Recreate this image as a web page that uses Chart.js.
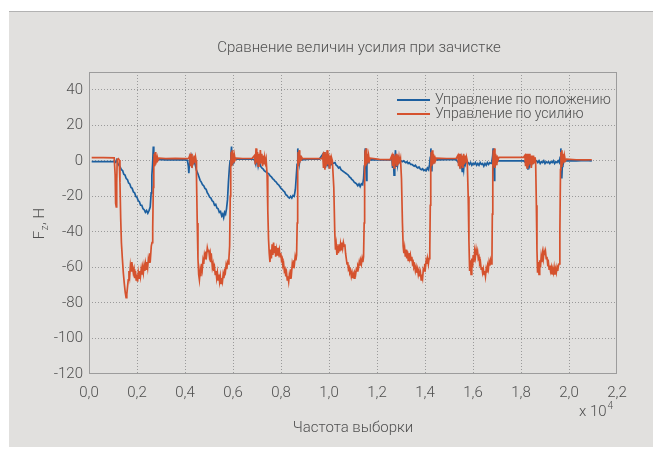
<!DOCTYPE html>
<html>
<head>
<meta charset="utf-8">
<script src="https://cdn.jsdelivr.net/npm/chart.js@4.4.1/dist/chart.umd.min.js"></script>
<style>
  html, body { margin: 0; padding: 0; background: #fff; }
  #wrap { position: relative; width: 653px; height: 455px; overflow: hidden; }
  #panel { position: absolute; left: 9px; top: 11px; right: 0; bottom: 8px; background: #e1e0de; border-top: 1px solid #b2b2b2; }
  canvas { position: absolute; left: 0; top: 0; }
</style>
</head>
<body>
<div id="wrap">
  <div id="panel"></div>
  <canvas id="chart" width="653" height="455"></canvas>
</div>
<script>
// samples / force in H
const xTickValues = [0, 2000, 4000, 6000, 8000, 10000, 12000, 14000, 16000, 18000, 20000, 22000];
const yTickValues = [-120, -100, -80, -60, -40, -20, 0, 20, 40];

// Управление по положению (blue)
const positionTrace = [
  [112,-0.5],[600,-0.5],[1050,-0.4],[1100,-0.8],[1150,0.5],[1200,-1.5],[1250,-2.5],[1300,-3.5],[1350,-5],
  [1400,-5.5],[1450,-7.5],[1500,-8],[1550,-10],[1600,-10.5],[1650,-12.5],[1700,-13],[1750,-15],[1800,-15.5],
  [1850,-17.5],[1900,-18],[1950,-20],[2000,-20.5],[2050,-22.5],[2100,-23],[2150,-25],[2200,-25],[2250,-27],
  [2300,-27.5],[2350,-29],[2400,-28],[2450,-29.5],[2500,-28],[2550,-26],[2590,-18],[2620,-8],[2650,-2],
  [2680,8],[2700,-3],[2720,4],[2740,-2],[2770,2],[2800,0.5],[2850,0.8],
  [3200,0.5],[3600,0.6],[4000,0.5],[4100,0.3],[4140,-3],[4160,-7],[4180,-2],[4200,1],[4240,-1],[4280,2],
  [4320,-2],[4360,0],[4400,-1],[4440,-3],
  [4480,-5.5],[4530,-7],[4580,-9],[4630,-11],[4680,-12],[4730,-13.5],[4780,-14],[4830,-15.5],[4880,-16],
  [4930,-18],[4980,-19],[5030,-20.5],[5080,-21],[5130,-22.5],[5180,-23],[5230,-25],[5280,-24.5],[5330,-26.5],
  [5380,-27],[5430,-29],[5480,-28.5],[5530,-31],[5570,-30],[5610,-32],[5650,-29],[5690,-30],[5730,-27],
  [5770,-22],[5810,-12],[5850,-4],[5880,0],[5910,3],[5940,8],[5960,-2],[5985,4],[6010,-1],[6040,2],[6080,1],
  [6400,1],[6800,1],[6900,0.5],[6950,-2],[7000,2],[7050,-3],[7100,0],[7150,-3],
  [7200,-4],[7250,-4.5],[7300,-5.5],[7350,-6],[7400,-6.5],[7450,-7],[7500,-7.5],[7550,-8.5],[7600,-9],
  [7650,-10],[7700,-10.5],[7750,-11.5],[7800,-12],[7850,-13],[7900,-13.5],[7950,-14.5],[8000,-15.5],
  [8050,-16],[8100,-17],[8150,-17.5],[8200,-19],[8250,-19.5],[8300,-20.5],[8350,-21],[8400,-20],[8450,-21],
  [8500,-19.5],[8550,-20],[8600,-16],[8640,-8],[8670,-2],[8700,7],[8720,-2],[8745,4],[8770,-1],[8800,2],
  [8840,0.5],[9200,1],[9600,1],
  [9760,4],[9790,-2],[9820,5],[9850,-4],[9880,2],[9910,-3],[9940,1],[9970,-2],[10000,0],[10030,-3],
  [10060,-1],[10100,-2],[10150,-1.5],
  [10250,-1],[10300,-2.5],[10350,-3],[10400,-4],[10450,-3.5],[10500,-5],[10550,-5.5],[10600,-6],[10650,-6.5],
  [10700,-7],[10750,-7.5],[10800,-8],[10850,-9],[10900,-9.5],[10950,-10.5],[11000,-11],[11050,-12],
  [11100,-12.5],[11150,-13],[11200,-14],[11250,-13],[11300,-14.5],[11350,-13],[11400,-13.5],[11440,-10],
  [11470,-3],[11495,5],[11515,7],[11535,-4],[11560,-11],[11580,-3],[11605,3],[11630,-1],[11660,1],[11700,0.5],
  [12100,0.6],[12550,0.5],
  [12620,1],[12650,-4],[12680,2],[12710,-8],[12740,-2],[12770,6],[12800,-3],[12830,3],[12860,-2],[12890,1],
  [12920,-1],[12950,0.5],[12990,0],
  [13050,-0.5],[13100,0],[13150,-0.5],[13200,-1],[13250,-0.5],[13300,-1.5],[13350,-1],[13400,-2],[13450,-2],
  [13500,-2.5],[13550,-3],[13600,-2.5],[13650,-3.5],[13700,-4],[13750,-3.5],[13800,-4.5],[13850,-5],
  [13900,-4.5],[13950,-5.5],[14000,-5],[14050,-5.5],[14100,-4],[14150,-5],[14190,-2],
  [14220,2],[14245,7],[14265,-2],[14285,-6],[14310,3],[14340,-1],[14370,2],[14400,0],[14440,0.5],
  [14900,0.6],[15300,0.6],
  [15400,-1],[15450,-3],[15500,1],[15550,-6],[15580,-2],[15610,-5],[15640,0],[15680,-2],[15720,0],[15760,-1],
  [15800,-1],[15850,-2],[15900,-1],[15950,-2.5],[16000,-1.5],[16050,-2],[16100,-1],[16150,-2.5],[16200,-1.5],
  [16250,-2.5],[16300,-1],[16350,-2],[16400,-1.5],[16450,-3],[16500,-1.5],[16550,-2.5],[16600,-1],
  [16650,-2],[16700,-1],[16750,-1.5],[16790,0],
  [16820,3],[16840,7],[16860,-2],[16885,-11],[16905,-4],[16930,2],[16960,-1],[17000,1],[17050,0],
  [17500,0],[18100,0],
  [18200,-1],[18250,-2],[18290,-5],[18320,-1],[18360,-3],[18400,0],[18440,-2],[18480,0],[18520,-1],[18580,0],
  [18650,0],[18700,-1],[18750,0],[18800,-1.5],[18850,-0.5],[18900,-1],[18950,0],[19000,-1.5],[19050,-0.5],
  [19100,-1],[19150,-0.5],[19200,-1.5],[19250,-0.5],[19300,-1],[19350,0],[19400,-1.5],[19450,-0.5],
  [19500,-1],[19550,0],[19600,-1],
  [19630,2],[19660,7],[19680,-2],[19700,-10],[19720,-3],[19745,2],[19770,-1],[19800,1],[19850,0],
  [20300,0],[20700,0.2],[20950,0]
];

// Управление по усилию (red)
const forceTrace = [
  [112,1.8],[600,1.8],[1050,1.7],
  [1090,-8],[1110,-24],[1135,-26],[1155,-12],[1175,0.8],[1220,1.2],[1260,0.4],
  [1290,-12],[1320,-32],[1350,-46],[1390,-55],[1430,-63],[1470,-69],[1510,-74],[1545,-77],[1575,-75],
  [1605,-71],[1635,-67],[1665,-62],[1695,-65],[1725,-59],[1755,-62],[1785,-57],[1815,-60],[1845,-63],
  [1875,-61],[1905,-66],[1935,-62],[1965,-67],[1995,-64],[2025,-68],[2055,-63],[2085,-66],[2115,-62],
  [2145,-65],[2175,-61],[2205,-64],[2235,-60],[2265,-63],[2295,-59],[2325,-62],[2355,-58],[2385,-61],
  [2415,-57],[2445,-60],[2475,-55],[2505,-57],[2535,-52],[2565,-54],[2595,-48],[2625,-46],[2655,-38],
  [2680,-15],[2700,-3],
  [2720,4],[2740,-3],[2760,5],[2780,-2],[2800,3],[2825,-1],[2850,2],[2880,0.5],[2920,1.5],
  [3200,1.2],[3600,1.4],[4000,1.2],[4150,1.3],
  [4200,3],[4230,-3],[4260,4],[4290,-4],[4320,2],[4350,-2],[4380,3],[4410,-1],[4440,2],[4465,0],
  [4480,-10],[4510,-35],[4540,-55],[4570,-64],[4600,-67],[4630,-62],[4660,-65],[4690,-58],[4720,-61],
  [4750,-56],[4780,-58],[4810,-53],[4840,-55],[4870,-51],[4900,-53],[4930,-49],[4960,-51],[4990,-50],
  [5020,-54],[5050,-52],[5080,-57],[5110,-55],[5140,-60],[5170,-58],[5200,-62],[5230,-60],[5260,-64],
  [5290,-62],[5320,-66],[5350,-63],[5380,-67],[5410,-64],[5440,-68],[5470,-65],[5500,-69],[5530,-66],
  [5560,-68],[5590,-64],[5620,-66],[5650,-62],[5680,-63],[5710,-59],[5740,-61],[5770,-57],[5800,-58],
  [5830,-55],[5860,-48],[5885,-20],[5905,-3],
  [5925,5],[5945,-3],[5965,6],[5985,-2],[6010,4],[6035,-1],[6060,3],[6090,0.5],[6130,1.5],
  [6400,1.3],[6800,1.4],
  [6900,3],[6930,-2],[6960,7],[6990,-1],[7020,5],[7050,-3],[7080,4],[7110,-2],[7140,6],[7170,-1],[7200,4],
  [7230,-3],[7260,3],[7290,-2],[7320,2],[7350,-1],[7380,1],
  [7420,-8],[7450,-28],[7480,-44],[7510,-52],[7540,-57],[7570,-50],[7600,-55],[7630,-47],[7660,-53],
  [7690,-46],[7720,-52],[7750,-48],[7780,-54],[7810,-50],[7840,-53],[7870,-49],[7900,-52],[7930,-50],
  [7960,-54],[7990,-52],[8020,-56],[8050,-55],[8080,-59],[8110,-58],[8140,-62],[8170,-61],[8200,-65],
  [8230,-63],[8260,-67],[8290,-65],[8320,-68],[8350,-64],[8380,-66],[8410,-61],[8440,-63],[8470,-58],
  [8500,-60],[8530,-56],[8560,-58],[8590,-54],[8620,-56],[8650,-53],[8675,-35],[8695,-5],
  [8715,5],[8735,-3],[8755,6],[8780,-1],[8805,3],[8830,0],[8860,2],[8900,1.2],
  [9300,1.3],[9700,1.2],
  [9740,3],[9770,-4],[9800,5],[9830,-5],[9860,4],[9890,-3],[9920,6],[9950,-2],[9980,4],[10010,-4],
  [10040,3],[10070,-2],[10100,2],[10140,0],
  [10200,-15],[10240,-40],[10270,-50],[10300,-47],[10330,-53],[10360,-48],[10390,-52],[10420,-47],
  [10450,-51],[10480,-47],[10510,-50],[10540,-46],[10570,-49],[10600,-46],[10630,-48],[10660,-47],
  [10690,-52],[10720,-55],[10750,-58],[10780,-57],[10810,-61],[10840,-60],[10870,-63],[10900,-62],
  [10930,-65],[10960,-63],[10990,-66],[11020,-64],[11050,-66],[11080,-63],[11110,-64],[11140,-61],
  [11170,-62],[11200,-59],[11230,-60],[11260,-57],[11290,-59],[11320,-56],[11350,-58],[11380,-55],
  [11410,-57],[11440,-54],[11465,-35],[11485,-5],
  [11505,6],[11525,-3],[11545,7],[11570,-2],[11595,4],[11620,-1],[11650,3],[11680,0],[11720,1.5],
  [12100,0.8],[12550,0.7],
  [12620,3],[12650,-3],[12680,4],[12710,-4],[12740,3],[12770,-2],[12800,4],[12830,-3],[12860,3],[12890,-2],
  [12920,2],[12950,-1],[12980,1],
  [13020,-10],[13060,-35],[13090,-48],[13120,-52],[13150,-49],[13180,-54],[13210,-50],[13240,-55],
  [13270,-51],[13300,-56],[13330,-52],[13360,-55],[13390,-53],[13420,-56],[13450,-54],[13480,-58],
  [13510,-57],[13540,-60],[13570,-59],[13600,-62],[13630,-60],[13660,-63],[13690,-61],[13720,-64],
  [13750,-62],[13780,-65],[13810,-63],[13840,-67],[13870,-64],[13900,-66],[13930,-61],[13960,-62],
  [13990,-58],[14020,-60],[14050,-56],[14080,-58],[14110,-55],[14140,-58],[14170,-55],[14200,-50],
  [14220,-25],[14240,-3],
  [14260,5],[14280,-3],[14300,6],[14325,-2],[14350,4],[14375,-1],[14400,3],[14430,0],[14470,1.5],
  [14900,1.3],[15300,1.3],
  [15370,3],[15400,-3],[15430,4],[15460,-4],[15490,4],[15520,-3],[15550,3],[15580,-4],[15610,4],[15640,-2],
  [15670,3],[15700,-1],[15730,2],[15760,0],
  [15800,-20],[15830,-45],[15860,-62],[15890,-56],[15920,-64],[15950,-55],[15980,-60],[16010,-53],
  [16040,-57],[16070,-51],[16100,-54],[16130,-50],[16160,-53],[16190,-51],[16220,-55],[16250,-54],
  [16280,-58],[16310,-57],[16340,-61],[16370,-60],[16400,-63],[16430,-61],[16460,-64],[16490,-62],
  [16520,-65],[16550,-61],[16580,-63],[16610,-59],[16640,-61],[16670,-57],[16700,-59],[16730,-56],
  [16760,-58],[16790,-55],[16805,-30],[16825,-3],
  [16845,6],[16865,-3],[16890,7],[16915,-4],[16940,4],[16965,-2],[16995,3],[17030,0],[17080,2],
  [17500,1.9],[18100,1.9],
  [18160,3],[18190,-3],[18220,4],[18250,-4],[18280,4],[18310,-3],[18340,4],[18370,-2],[18400,3],[18430,-4],
  [18460,3],[18490,-2],[18520,3],[18550,-1],[18580,2],[18610,0],
  [18640,-25],[18665,-50],[18690,-63],[18720,-57],[18750,-64],[18780,-56],[18810,-60],[18840,-54],
  [18870,-57],[18900,-52],[18930,-55],[18960,-51],[18990,-53],[19020,-51],[19050,-55],[19080,-54],
  [19110,-58],[19140,-57],[19170,-61],[19200,-59],[19230,-62],[19260,-60],[19290,-64],[19320,-61],
  [19350,-63],[19380,-60],[19410,-64],[19440,-61],[19470,-63],[19500,-60],[19530,-62],[19560,-59],
  [19590,-58],[19620,-40],[19645,-5],
  [19665,5],[19685,-3],[19705,6],[19730,-2],[19755,4],[19780,-1],[19810,3],[19850,0],[19900,1],
  [20300,0.6],[20700,0.5],[20950,0.6]
];

const seriesLabels = ['Управление по положению', 'Управление по усилию'];
const seriesColors = ['#1c5f9f', '#d5522e'];

const FONT = "Roboto, 'Liberation Sans', sans-serif";
const TEXT = '#505050';
const GRID = '#9a9a9a';

const toPoints = trace => trace.map(p => ({ x: p[0], y: p[1] }));

const decor = {
  id: 'decor',
  afterDraw(chart) {
    const { ctx, chartArea: a } = chart;
    ctx.save();
    // frame
    ctx.strokeStyle = '#9c9c9c';
    ctx.lineWidth = 1;
    ctx.strokeRect(Math.round(a.left) + 0.5, Math.round(a.top) + 0.5,
      Math.round(a.right - a.left) - 1, Math.round(a.bottom - a.top) - 1);

    ctx.fillStyle = TEXT;
    ctx.textBaseline = 'middle';

    // title
    ctx.font = `300 15px ${FONT}`;
    ctx.textAlign = 'center';
    ctx.fillText('Сравнение величин усилия при зачистке', 359, 48);

    // x title
    ctx.fillText('Частота выборки', (a.left + a.right) / 2, 428);

    // x 10^4
    ctx.textAlign = 'left';
    ctx.fillText('x 10', 579, 412);
    const w = ctx.measureText('x 10').width;
    ctx.font = `300 10px ${FONT}`;
    ctx.fillText('4', 579 + w + 1, 406);

    // y title with subscript
    ctx.save();
    ctx.translate(40, 224);
    ctx.rotate(-Math.PI / 2);
    ctx.font = `300 15px ${FONT}`;
    const wF = ctx.measureText('F').width;
    ctx.font = `300 10px ${FONT}`;
    const wz = ctx.measureText('z').width;
    ctx.font = `300 15px ${FONT}`;
    const wR = ctx.measureText(', H').width;
    const x0 = -(wF + wz + wR) / 2;
    ctx.fillText('F', x0, 0);
    ctx.font = `300 10px ${FONT}`;
    ctx.fillText('z', x0 + wF + 0.5, 5);
    ctx.font = `300 15px ${FONT}`;
    ctx.fillText(', H', x0 + wF + wz + 1, 0);
    ctx.restore();

    // legend
    ctx.font = `300 14px ${FONT}`;
    chart.data.datasets.forEach((ds, i) => {
      const y = a.top + 28 + i * 14;
      ctx.strokeStyle = ds.borderColor;
      ctx.lineWidth = 1.8;
      ctx.beginPath();
      ctx.moveTo(a.right - 220, y);
      ctx.lineTo(a.right - 187, y);
      ctx.stroke();
      ctx.fillStyle = TEXT;
      ctx.fillText(ds.label, a.right - 182, y);
    });
    ctx.restore();
  }
};

new Chart(document.getElementById('chart'), {
  type: 'line',
  data: {
    datasets: [
      { label: seriesLabels[0], data: toPoints(positionTrace), borderColor: seriesColors[0], order: 1 },
      { label: seriesLabels[1], data: toPoints(forceTrace), borderColor: seriesColors[1], order: 0 }
    ]
  },
  options: {
    responsive: false,
    animation: false,
    events: [],
    layout: { padding: { left: 0, right: 36, top: 72, bottom: 0 } },
    elements: {
      point: { radius: 0 },
      line: { borderWidth: 1.7, tension: 0, fill: false }
    },
    plugins: { legend: { display: false }, tooltip: { enabled: false } },
    scales: {
      x: {
        type: 'linear',
        min: 0,
        max: 22000,
        afterBuildTicks: s => { s.ticks = xTickValues.map(v => ({ value: v })); },
        afterFit: s => { s.height = 81; },
        border: { display: false, dash: [1, 2] },
        grid: {
          drawTicks: false,
          lineWidth: 1,
          color: c => (c.tick && (c.tick.value === 0 || c.tick.value === 22000)) ? 'rgba(0,0,0,0)' : GRID
        },
        ticks: {
          padding: 10,
          maxRotation: 0,
          color: TEXT,
          font: { family: FONT, size: 15, weight: 300 },
          callback: v => (v / 10000).toFixed(1).replace('.', ',')
        }
      },
      y: {
        min: -120,
        max: 50,
        afterBuildTicks: s => { s.ticks = yTickValues.map(v => ({ value: v })); },
        afterFit: s => { s.width = 89; },
        border: { display: false, dash: [1, 2] },
        grid: {
          drawTicks: false,
          lineWidth: 1,
          color: c => (c.tick && c.tick.value === -120) ? 'rgba(0,0,0,0)' : GRID
        },
        ticks: {
          padding: 6,
          color: TEXT,
          font: { family: FONT, size: 15, weight: 300 }
        }
      }
    }
  },
  plugins: [decor]
});
</script>
</body>
</html>
